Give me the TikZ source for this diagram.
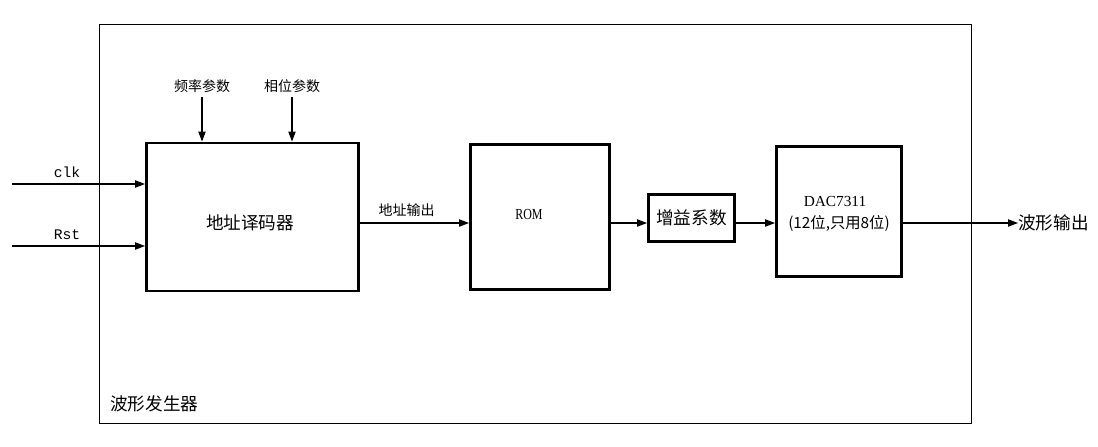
\documentclass[tikz,border=0pt]{standalone}
\usepackage{fontspec}
\setmainfont{Liberation Serif}
\setmonofont{Liberation Mono}
\newfontfamily\cjk{Noto Sans CJK SC}
\usetikzlibrary{arrows.meta}
\begin{document}
\begin{tikzpicture}[x=0.75pt,y=-0.75pt,
  blk/.style={draw,line width=2.2pt,inner sep=0pt},
  sig/.style={line width=0.8pt,-{Triangle[length=7.5pt,width=5.5pt]}},
  lbl/.style={inner sep=1pt,font=\cjk\fontsize{10.5pt}{12pt}\selectfont},
  big/.style={inner sep=0pt,font=\cjk\fontsize{13.2pt}{15pt}\selectfont}]
\useasboundingbox (0,0) rectangle (1098,446);
% outer frame of the waveform generator
\node[draw,line width=0.75pt,minimum width=872pt*0.75,minimum height=398.5pt*0.75,inner sep=0pt] (frame) at (535.5,223.75) {};
\node[big,anchor=west] (gen) at (110,404) {波形发生器};
% signal row
\coordinate (row) at (0,223);
% blocks
\node[blk,minimum width=212pt*0.75,minimum height=148pt*0.75] (dec) at (252.5,217) {};
\node[big] (dectxt) at (250,223) {地址译码器};
\node[blk,minimum width=139pt*0.75,minimum height=145pt*0.75] (rom) at (540,217) {};
\node[inner sep=0pt,xscale=0.78,font=\fontsize{11.5pt}{13pt}\selectfont] (romtxt) at (529,214) {ROM};
\node[blk,minimum width=86pt*0.75,minimum height=47pt*0.75,big] (gain) at (691.5,218) {增益系数};
\node[blk,minimum width=125pt*0.75,minimum height=130pt*0.75] (dac) at (839,211.5) {};
\node[inner sep=0pt,font=\fontsize{11.5pt}{13pt}\selectfont] (dactxt) at (835,201) {DAC7311};
\node[inner sep=0pt,font=\cjk\fontsize{11.5pt}{13pt}\selectfont] (dacbits) at (839,224) {(12位,只用8位)};
% inputs
\coordinate (clkin) at (12,184);
\coordinate (rstin) at (12,246);
\node[inner sep=0pt,font=\ttfamily\fontsize{11pt}{12pt}\selectfont] (clk) at (67,172) {clk};
\node[inner sep=0pt,font=\ttfamily\fontsize{11pt}{12pt}\selectfont] (rst) at (67,235) {Rst};
\draw[sig] (clkin) -- (dec.west |- clkin);
\draw[sig] (rstin) -- (dec.west |- rstin);
\node[lbl] (freq) at (202,86) {频率参数};
\node[lbl] (phase) at (292,86) {相位参数};
\draw[sig] (freq.south) ++(0,3) -- (freq.south |- dec.north);
\draw[sig] (phase.south) ++(0,3) -- (phase.south |- dec.north);
% data path
\node[lbl,anchor=south west] (addr) at (377,218) {地址输出};
\draw[sig] (dec.east |- row) -- (rom.west |- row);
\draw[sig] (rom.east |- row) -- (gain.west |- row);
\draw[sig] (gain.east |- row) -- (dac.west |- row);
\node[big,anchor=west,inner sep=0pt] (out) at (1018,223) {波形输出};
\draw[sig] (dac.east |- row) -- (out.west);
\end{tikzpicture}
\end{document}
